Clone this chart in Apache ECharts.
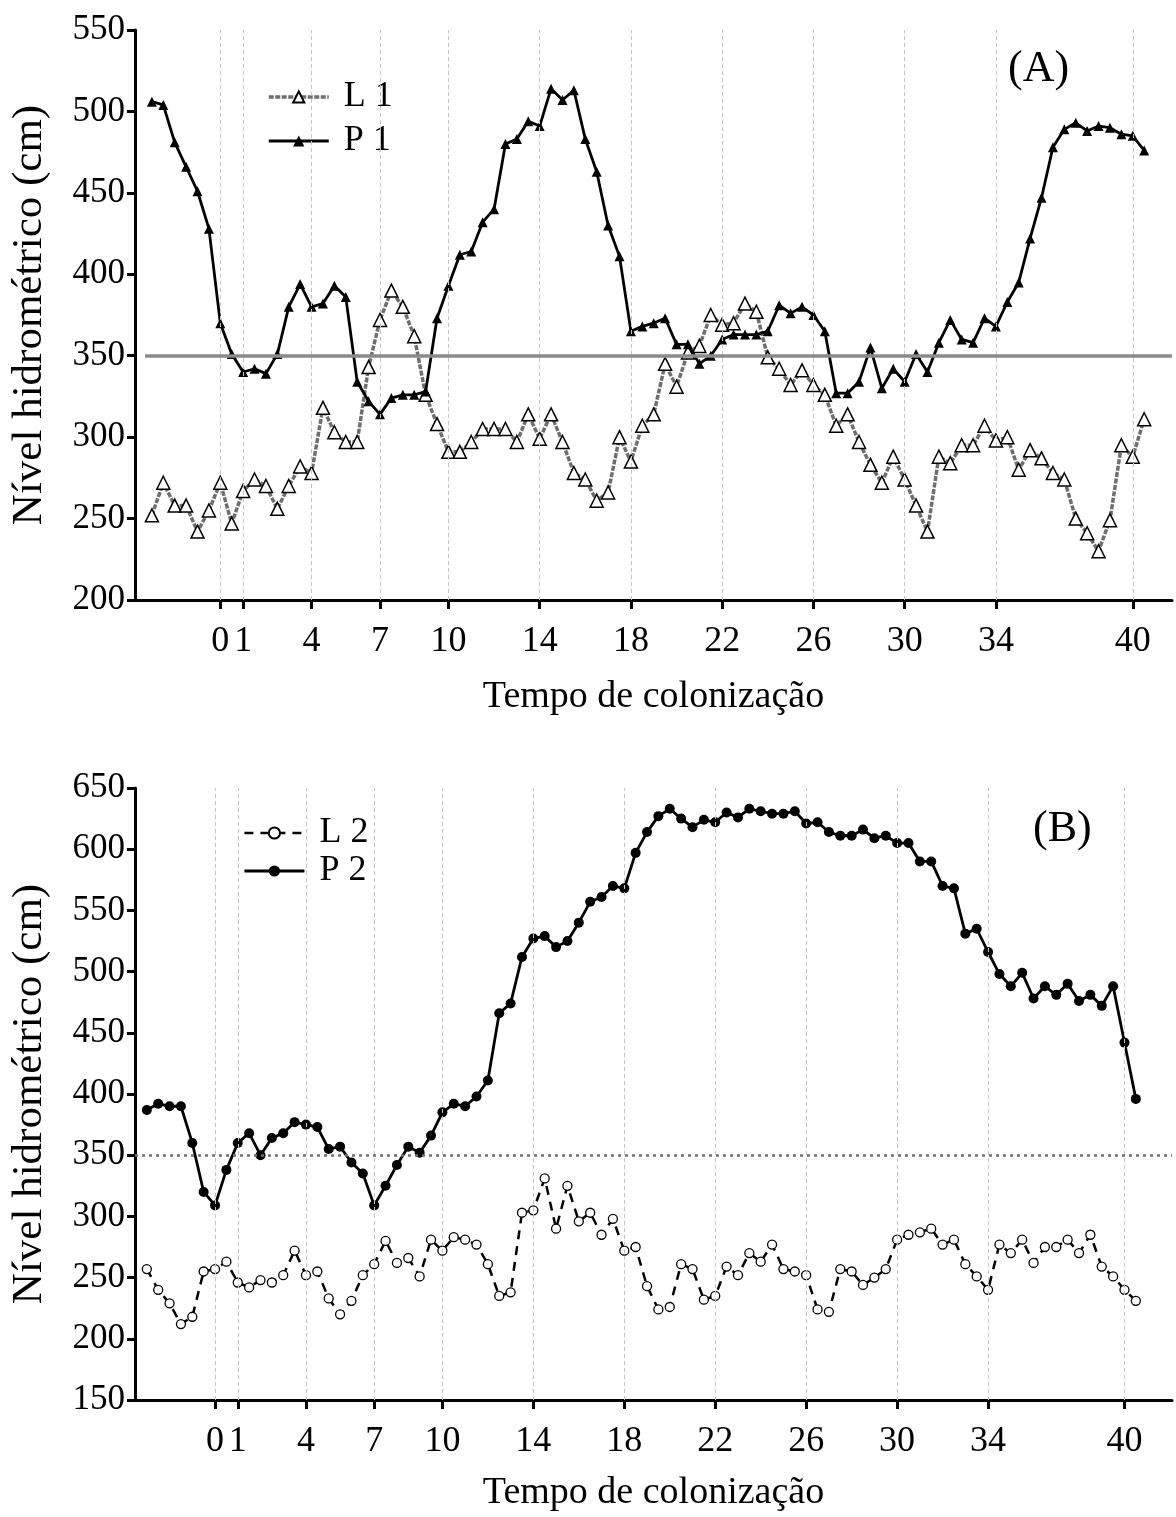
<!DOCTYPE html>
<html><head><meta charset="utf-8">
<script src="https://cdn.jsdelivr.net/npm/echarts@6/dist/echarts.min.js"></script>
<style>html,body{margin:0;padding:0;background:#fff}#c{width:1176px;height:1517px}</style>
</head><body><div id="c"></div>
<script>
// sampling times (days of colonization) (two readings per day)
const days = [-3,-2.5,-2,-1.5,-1,-0.5,0,0.5,1,1.5,2,2.5,3,3.5,4,4.5,5,5.5,6,6.5,7,7.5,8,8.5,9,9.5,10,10.5,11,11.5,12,12.5,13,13.5,14,14.5,15,15.5,16,16.5,17,17.5,18,18.5,19,19.5,20,20.5,21,21.5,22,22.5,23,23.5,24,24.5,25,25.5,26,26.5,27,27.5,28,28.5,29,29.5,30,30.5,31,31.5,32,32.5,33,33.5,34,34.5,35,35.5,36,36.5,37,37.5,38,38.5,39,39.5,40,40.5];
const tickDays = [0,1,4,7,10,14,18,22,26,30,34,40];
const refLevel = 350;

// Panel A
const l1 = [252,272,258,258,242,255,272,247,267,274,
            270,256,270,282,278,318,303,297,297,343,
            372,390,380,362,326,308,291,291,297,305,
            305,305,297,314,299,314,297,278,274,261,
            266,300,285,307,314,345,331,352,356,375,
            369,370,382,377,349,342,332,341,332,326,
            307,314,297,283,272,288,274,258,242,288,
            284,295,295,307,298,300,280,292,287,278,
            274,250,241,230,249,295,288,311];
const p1 = [506,504,481,466,451,428,370,351,340,342,
            339,351,380,394,380,382,393,386,334,322,
            314,324,326,326,328,373,393,412,414,432,
            440,480,483,494,491,514,507,513,483,463,
            430,411,365,368,370,373,357,357,345,350,
            360,363,363,363,365,381,376,380,375,365,
            327,327,334,355,330,342,334,351,340,358,
            372,360,358,373,368,383,395,422,447,478,
            489,493,488,491,490,486,485,476];
// Panel B
const l2 = [257,240,229,212,218,255,257,263,246,242,
            248,246,252,272,252,255,233,220,231,252,
            261,280,262,266,251,281,272,283,281,277,
            261,235,238,303,305,331,290,325,296,303,
            285,298,272,275,243,224,226,261,257,232,
            235,259,252,270,263,277,257,255,252,224,
            222,257,255,244,250,257,281,285,287,290,
            277,281,261,251,240,277,270,281,262,275,
            275,281,270,285,259,251,240,231];
const p2 = [387,392,390,390,360,320,309,338,360,368,
            350,364,368,377,375,373,355,357,344,335,
            309,325,342,357,352,366,385,392,390,398,
            411,466,474,512,527,529,520,525,540,557,
            561,570,568,597,614,627,633,625,618,624,
            622,630,626,633,631,629,629,631,621,622,
            614,611,611,616,609,611,605,605,590,590,
            570,568,531,535,516,498,488,499,478,488,
            481,490,476,481,472,488,442,396];

const font = '"Liberation Serif","Times New Roman",serif';
const pairs = v => days.map((d, i) => [d, v[i]]);

const styleL1 = {color: '#6e6e6e', width: 3.5, type: [5, 1.5]};
const styleP = {color: '#000', width: 2.8, type: 'solid'};
const styleL2 = {color: '#000', width: 2.5, type: [9, 7]};

function xAx(idx, min, max, gap) {
  return {
    gridIndex: idx, type: 'value', min: min, max: max,
    name: 'Tempo de colonização', nameLocation: 'middle', nameGap: gap,
    nameTextStyle: {fontFamily: font, fontSize: 38, color: '#000'},
    axisLine: {show: true, onZero: false, lineStyle: {color: '#000', width: 3}},
    axisTick: {show: true, customValues: tickDays, length: 9, lineStyle: {color: '#000', width: 3}},
    axisLabel: {customValues: tickDays, fontFamily: font, fontSize: 36, color: '#000', margin: 24},
    splitLine: {show: false}
  };
}
function yAx(idx, min, max) {
  return {
    gridIndex: idx, type: 'value', min: min, max: max, interval: 50,
    name: 'Nível hidrométrico (cm)', nameLocation: 'middle', nameRotate: 90, nameGap: 84,
    nameTextStyle: {fontFamily: font, fontSize: 43, color: '#000'},
    axisLine: {show: true, onZero: false, lineStyle: {color: '#000', width: 3}},
    axisTick: {show: true, length: 8, lineStyle: {color: '#000', width: 3}},
    axisLabel: {fontFamily: font, fontSize: 35, color: '#000', margin: 10},
    splitLine: {show: false}
  };
}
function guides(idx, refStart, refEnd, refStyle) {
  return {
    type: 'line', xAxisIndex: idx, yAxisIndex: idx, data: [], z: 1, silent: true,
    markLine: {
      silent: true, symbol: ['none', 'none'], label: {show: false}, animation: false,
      lineStyle: {color: '#c4c4c4', width: 1, type: [4, 3]},
      emphasis: {disabled: true},
      data: tickDays.map(d => ({xAxis: d})).concat([[
        {coord: [refStart, refLevel], lineStyle: refStyle},
        {coord: [refEnd, refLevel]}
      ]])
    }
  };
}

const legendText = {fontFamily: font, fontSize: 36, color: '#000', padding: [0, 0, 0, 10]};
const option = {
  animation: false,
  backgroundColor: '#fff',
  title: [
    {text: '(A)', left: 1003, top: 42, textStyle: {fontFamily: font, fontSize: 44, fontWeight: 'normal', color: '#000'}},
    {text: '(B)', left: 1028, top: 802, textStyle: {fontFamily: font, fontSize: 44, fontWeight: 'normal', color: '#000'}}
  ],
  legend: [
    {data: [{name: 'L 1', lineStyle: styleL1}, {name: 'P 1', lineStyle: styleP}],
     orient: 'vertical', left: 262, top: 74, itemWidth: 60, itemHeight: 14, itemGap: 8, textStyle: legendText},
    {data: [{name: 'L 2', lineStyle: styleL2}, {name: 'P 2', lineStyle: styleP}],
     orient: 'vertical', left: 238, top: 810, itemWidth: 60, itemHeight: 14, itemGap: 2, textStyle: legendText}
  ],
  grid: [
    {left: 132, top: 30, width: 1040, height: 570},
    {left: 132, top: 788, width: 1040, height: 612}
  ],
  xAxis: [xAx(0, -3.74, 41.72, 78), xAx(1, -3.52, 42.09, 74)],
  yAxis: [yAx(0, 200, 550), yAx(1, 150, 650)],
  series: [
    guides(0, -3.3, 41.72, {color: '#8a8a8a', width: 3.5, type: 'solid'}),
    guides(1, -3.52, 42.09, {color: '#707070', width: 2.5, type: [3, 4]}),
    {name: 'L 1', type: 'line', xAxisIndex: 0, yAxisIndex: 0, data: pairs(l1), z: 3,
     symbol: 'triangle', symbolSize: 13,
     itemStyle: {color: '#fff', borderColor: '#000', borderWidth: 1.5},
     lineStyle: styleL1},
    {name: 'P 1', type: 'line', xAxisIndex: 0, yAxisIndex: 0, data: pairs(p1), z: 4,
     symbol: 'triangle', symbolSize: 10,
     itemStyle: {color: '#000'},
     lineStyle: styleP},
    {name: 'L 2', type: 'line', xAxisIndex: 1, yAxisIndex: 1, data: pairs(l2), z: 3,
     symbol: 'circle', symbolSize: 9,
     itemStyle: {color: '#fff', borderColor: '#000', borderWidth: 1.3},
     lineStyle: styleL2},
    {name: 'P 2', type: 'line', xAxisIndex: 1, yAxisIndex: 1, data: pairs(p2), z: 4,
     symbol: 'circle', symbolSize: 10,
     itemStyle: {color: '#000'},
     lineStyle: styleP}
  ]
};
const chart = echarts.init(document.getElementById('c'), null, {renderer: 'canvas'});
chart.setOption(option);
</script>
</body></html>
